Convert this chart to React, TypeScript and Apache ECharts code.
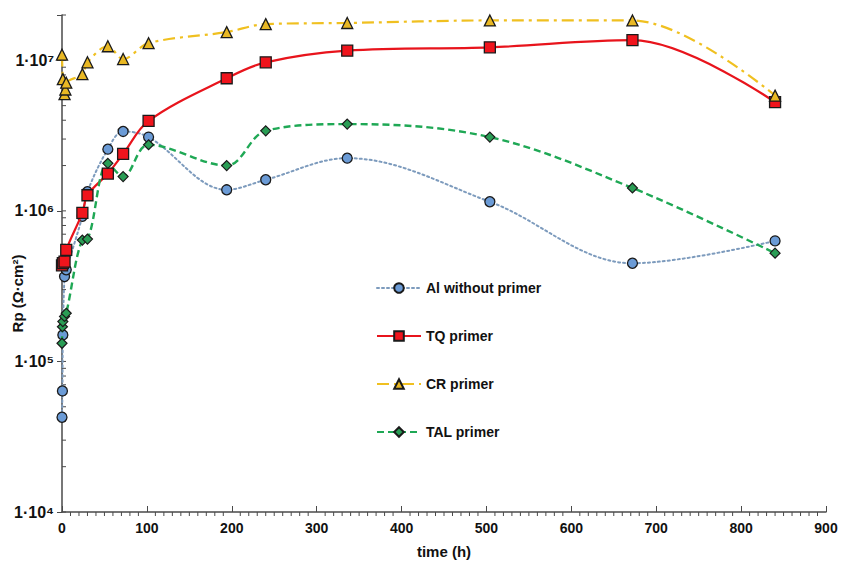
import React, { useEffect, useRef } from 'react';
import * as echarts from 'echarts';

// ---- data (time in h, Rp in Ω·cm²) ----
const timesAI = [0, 0.5, 1, 3, 5, 24, 30, 54, 72, 102, 194, 240, 336, 504, 672, 840];
const valuesAI = [4.26e4, 6.37e4, 1.5e5, 3.66e5, 4.06e5, 9.2e5, 1.34e6, 2.57e6, 3.37e6, 3.09e6, 1.38e6, 1.61e6, 2.24e6, 1.15e6, 4.49e5, 6.32e5];

const timesTQ = [0, 1, 3, 5, 24, 30, 54, 72, 102, 194, 240, 336, 504, 672, 840];
const valuesTQ = [4.35e5, 4.5e5, 4.6e5, 5.5e5, 9.7e5, 1.27e6, 1.77e6, 2.39e6, 3.96e6, 7.6e6, 9.7e6, 1.16e7, 1.22e7, 1.36e7, 5.27e6];

const timesCR = [0, 1, 3, 4, 5, 24, 30, 54, 72, 102, 194, 240, 336, 504, 672, 840];
const valuesCR = [1.09e7, 7.5e6, 5.96e6, 6.4e6, 7.1e6, 8.1e6, 9.7e6, 1.24e7, 1.02e7, 1.3e7, 1.54e7, 1.74e7, 1.77e7, 1.84e7, 1.84e7, 5.83e6];

const timesTAL = [0, 0.5, 1, 3, 5, 24, 30, 54, 72, 102, 194, 240, 336, 504, 672, 840];
const valuesTAL = [1.32e5, 1.7e5, 1.84e5, 1.99e5, 2.09e5, 6.4e5, 6.5e5, 2.07e6, 1.69e6, 2.75e6, 2.0e6, 3.4e6, 3.77e6, 3.09e6, 1.42e6, 5.24e5];

const seriesNames = ['Al without primer', 'TQ primer', 'CR primer', 'TAL primer'];

const xMin = 0;
const xMax = 900;
const xInterval = 100;
const xMinorStep = 10;
const yMin = 1e4;
const yMax = 2e7;
const yDecades = [4, 5, 6, 7];

const SUP: Record<string, string> = { '0': '⁰', '1': '¹', '2': '²', '3': '³', '4': '⁴', '5': '⁵', '6': '⁶', '7': '⁷', '8': '⁸', '9': '⁹' };

const pairs = (t: number[], v: number[]) => t.map((x, i) => [x, v[i]]);

export default function App() {
  const ref = useRef<HTMLDivElement>(null);

  useEffect(() => {
    document.body.style.margin = '0';
    if (!ref.current) return;
    const chart = echarts.init(ref.current, undefined, { renderer: 'svg' });

    const yMinorData: number[][] = [];
    yDecades.forEach((d) => {
      for (let k = 1; k <= 9; k++) {
        const v = k * Math.pow(10, d);
        if (v <= yMax) yMinorData.push([xMin, v]);
      }
    });
    const xMinorData: number[][] = [];
    for (let v = xMin; v <= xMax; v += xMinorStep) {
      if (v % xInterval !== 0) xMinorData.push([v, yMin]);
    }

    const boldFont = '"Liberation Sans", Arial, sans-serif';
    const axisColor = '#4a4a4a';

    chart.setOption({
      animation: false,
      backgroundColor: '#ffffff',
      grid: { left: 62, right: 17, top: 15, bottom: 53, containLabel: false, outerBoundsMode: 'none' },
      legend: {
        data: seriesNames,
        orient: 'vertical',
        left: 371,
        top: 276,
        itemWidth: 44,
        itemHeight: 12,
        itemGap: 34,
        textStyle: { fontFamily: boldFont, fontWeight: 'bold', fontSize: 14, color: '#111' },
      },
      xAxis: {
        type: 'value',
        min: xMin,
        max: xMax,
        interval: xInterval,
        name: 'time (h)',
        nameLocation: 'middle',
        nameGap: 32,
        nameTextStyle: { fontFamily: boldFont, fontWeight: 'bold', fontSize: 15, color: '#111' },
        axisLine: { show: true, onZero: false, lineStyle: { color: axisColor, width: 1.5 } },
        axisTick: { show: true, inside: true, length: 6, lineStyle: { color: axisColor, width: 1 } },
        axisLabel: { fontFamily: boldFont, fontWeight: 'bold', fontSize: 14, color: '#111', margin: 9 },
        splitLine: { show: false },
      },
      yAxis: {
        type: 'log',
        logBase: 10,
        min: yMin,
        max: yMax,
        name: 'Rp (Ω·cm²)',
        nameLocation: 'middle',
        nameGap: 37,
        nameMoveOverlap: false,
        nameTextStyle: { fontFamily: boldFont, fontWeight: 'bold', fontSize: 15, color: '#111', padding: [0, 60, 0, 0] },
        axisLine: { show: true, lineStyle: { color: axisColor, width: 1.5 } },
        axisTick: { show: true, length: 5, lineStyle: { color: axisColor, width: 1 } },
        axisLabel: {
          fontFamily: boldFont,
          fontWeight: 'bold',
          fontSize: 16,
          color: '#111',
          margin: 8,
          formatter: (v: number) => {
            const l = Math.log10(v);
            const e = Math.round(l);
            if (Math.abs(l - e) > 1e-6) return '';
            return '1·10' + String(e).split('').map((c) => SUP[c]).join('');
          },
        },
        splitLine: { show: false },
      },
      series: [
        {
          name: seriesNames[0],
          type: 'line',
          data: pairs(timesAI, valuesAI),
          smooth: 0.35,
          symbol: 'circle',
          symbolSize: 10,
          lineStyle: { color: '#7d9bbd', width: 2, type: [2, 3], cap: 'round' },
          itemStyle: { color: '#6b9bd6', borderColor: '#1a1a1a', borderWidth: 1.3 },
          z: 3,
        },
        {
          name: seriesNames[1],
          type: 'line',
          data: pairs(timesTQ, valuesTQ),
          smooth: 0.35,
          symbol: 'rect',
          symbolSize: 11,
          lineStyle: { color: '#e8141c', width: 2.2, type: 'solid' },
          itemStyle: { color: '#f0141c', borderColor: '#1a1a1a', borderWidth: 1.3 },
          z: 4,
        },
        {
          name: seriesNames[2],
          type: 'line',
          data: pairs(timesCR, valuesCR),
          smooth: 0.35,
          symbol: 'triangle',
          symbolSize: 11,
          lineStyle: { color: '#f0c020', width: 2.2, type: [12, 5, 3, 5] },
          itemStyle: { color: '#e9b824', borderColor: '#1a1a1a', borderWidth: 1.3 },
          z: 5,
        },
        {
          name: seriesNames[3],
          type: 'line',
          data: pairs(timesTAL, valuesTAL),
          smooth: 0.35,
          symbol: 'diamond',
          symbolSize: 10,
          lineStyle: { color: '#1fa855', width: 2.4, type: [7, 4] },
          itemStyle: { color: '#2a9d55', borderColor: '#1a1a1a', borderWidth: 1.2 },
          z: 4,
        },
        {
          type: 'custom',
          name: 'yMinor',
          silent: true,
          clip: false,
          data: yMinorData,
          renderItem: (_p: any, api: any) => {
            const p = api.coord([api.value(0), api.value(1)]);
            return {
              type: 'line',
              shape: { x1: p[0], y1: p[1], x2: p[0] + 4, y2: p[1] },
              style: { stroke: axisColor, lineWidth: 1 },
            };
          },
          z: 1,
        },
        {
          type: 'custom',
          name: 'xMinor',
          silent: true,
          clip: false,
          data: xMinorData,
          renderItem: (_p: any, api: any) => {
            const p = api.coord([api.value(0), api.value(1)]);
            return {
              type: 'line',
              shape: { x1: p[0], y1: p[1], x2: p[0], y2: p[1] + 4 },
              style: { stroke: axisColor, lineWidth: 1 },
            };
          },
          z: 1,
        },
      ],
    });

    return () => chart.dispose();
  }, []);

  return <div ref={ref} style={{ width: 843, height: 565 }} />;
}
